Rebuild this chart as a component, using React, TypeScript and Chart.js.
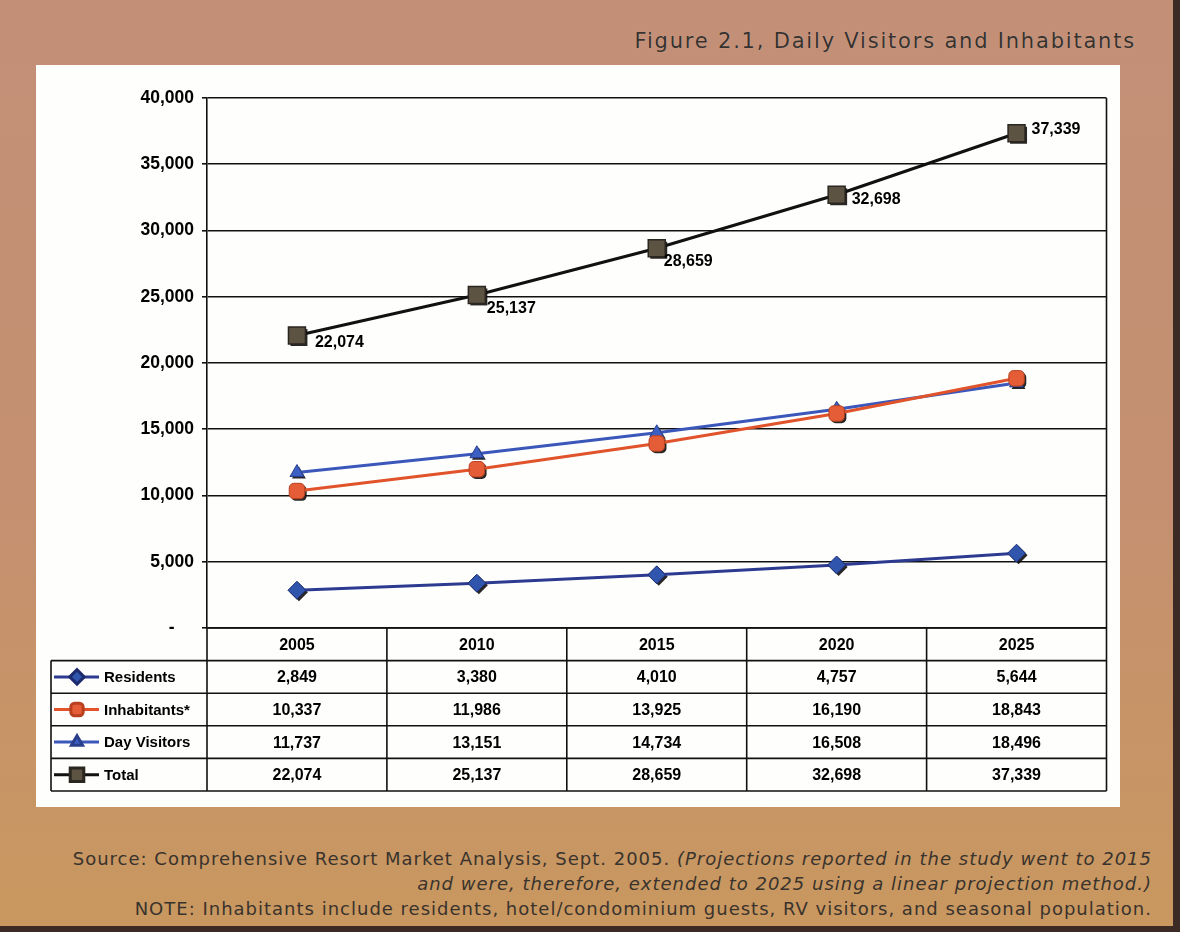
import React, { useEffect, useRef } from "react";
import { Chart, registerables } from "chart.js";
import { drawPoint } from "chart.js/helpers";

Chart.register(...registerables);

// ---- data ----
const years = ["2005", "2010", "2015", "2020", "2025"];
const residents = [2849, 3380, 4010, 4757, 5644];
const inhabitants = [10337, 11986, 13925, 16190, 18843];
const dayVisitors = [11737, 13151, 14734, 16508, 18496];
const total = [22074, 25137, 28659, 32698, 37339];
const seriesNames = ["Residents", "Inhabitants*", "Day Visitors", "Total"];
const yMin = 0;
const yMax = 40000;
const yStep = 5000;

const titleText = "Figure 2.1, Daily Visitors and Inhabitants";
const sourceText = "Source: Comprehensive Resort Market Analysis, Sept. 2005. ";
const sourceNoteA = "(Projections reported in the study went to 2015";
const sourceNoteB = "and were, therefore, extended to 2025 using a linear projection method.)";
const noteText =
  "NOTE: Inhabitants include residents, hotel/condominium guests, RV visitors, and seasonal population.";

const labelFont = (size: number) => `bold ${size}px "Liberation Sans", Arial, sans-serif`;
const fmt = (v: number) => v.toLocaleString("en-US");

// per-point nudges for the Total value labels (from the marker centre)
const totalLabelNudge = [
  [18, 7],
  [10, 14],
  [7, 13],
  [15, 5],
  [15, -4],
];

const markerShadowPlugin = {
  id: "markerShadow",
  beforeDatasetsDraw(chart: any) {
    const ctx = chart.ctx;
    ctx.save();
    ctx.fillStyle = "rgba(18,16,14,0.9)";
    chart.data.datasets.forEach((ds: any, i: number) => {
      const meta = chart.getDatasetMeta(i);
      meta.data.forEach((pt: any) => {
        drawPoint(
          ctx,
          { pointStyle: ds.pointStyle, radius: ds.pointRadius, rotation: 0, borderWidth: 0 },
          pt.x + 2,
          pt.y + 2
        );
      });
    });
    ctx.restore();
  },
};

const totalLabelsPlugin = {
  id: "totalLabels",
  afterDatasetsDraw(chart: any) {
    const ctx = chart.ctx;
    const idx = 3;
    const meta = chart.getDatasetMeta(idx);
    const values = chart.data.datasets[idx].data as number[];
    ctx.save();
    ctx.font = labelFont(16);
    ctx.fillStyle = "#000";
    ctx.textAlign = "left";
    ctx.textBaseline = "middle";
    meta.data.forEach((pt: any, i: number) => {
      const [dx, dy] = totalLabelNudge[i];
      ctx.fillText(fmt(values[i]), pt.x + dx, pt.y + dy);
    });
    ctx.restore();
  },
};

const dataTablePlugin = {
  id: "dataTable",
  afterDraw(chart: any) {
    const { ctx, chartArea, scales } = chart;
    const x = scales.x;
    const n = years.length;
    const datasets = chart.data.datasets;
    const rowH = 32.6;
    const top = chartArea.bottom;
    const bottom = top + rowH * (datasets.length + 1);
    const legendLeft = 15;

    const bounds: number[] = [chartArea.left];
    for (let i = 1; i < n; i++) bounds.push((x.getPixelForValue(i - 1) + x.getPixelForValue(i)) / 2);
    bounds.push(chartArea.right);

    ctx.save();
    ctx.strokeStyle = "#111";
    ctx.lineWidth = 1.6;
    ctx.beginPath();
    ctx.moveTo(chartArea.left, top);
    ctx.lineTo(chartArea.right, top);
    for (let r = 1; r <= datasets.length + 1; r++) {
      const y = top + r * rowH;
      ctx.moveTo(legendLeft, y);
      ctx.lineTo(chartArea.right, y);
    }
    ctx.moveTo(legendLeft, top + rowH);
    ctx.lineTo(legendLeft, bottom);
    bounds.forEach((b) => {
      ctx.moveTo(b, top);
      ctx.lineTo(b, bottom);
    });
    // right edge of the plot frame
    ctx.moveTo(chartArea.right, chartArea.top);
    ctx.lineTo(chartArea.right, top);
    ctx.stroke();

    ctx.font = labelFont(16);
    ctx.fillStyle = "#000";
    ctx.textAlign = "center";
    ctx.textBaseline = "middle";
    years.forEach((yr, i) => {
      ctx.fillText(yr, x.getPixelForValue(i), top + rowH / 2 + 1);
    });

    datasets.forEach((ds: any, r: number) => {
      const cy = top + rowH * (r + 1) + rowH / 2 + 1;
      ctx.font = labelFont(16);
      ctx.textAlign = "center";
      ctx.fillStyle = "#000";
      (ds.data as number[]).forEach((v, i) => {
        ctx.fillText(fmt(v), x.getPixelForValue(i), cy);
      });
      // legend key
      ctx.save();
      ctx.strokeStyle = ds.borderColor;
      ctx.lineWidth = 3;
      ctx.beginPath();
      ctx.moveTo(legendLeft + 3, cy - 1);
      ctx.lineTo(legendLeft + 48, cy - 1);
      ctx.stroke();
      ctx.fillStyle = ds.pointBackgroundColor;
      ctx.strokeStyle = ds.pointBorderColor;
      drawPoint(
        ctx,
        { pointStyle: ds.pointStyle, radius: ds.pointRadius * 0.8, rotation: 0, borderWidth: 1 },
        legendLeft + 26,
        cy - 1
      );
      ctx.restore();
      ctx.font = labelFont(15);
      ctx.textAlign = "left";
      ctx.fillStyle = "#000";
      ctx.fillText(ds.label, legendLeft + 53, cy);
    });
    ctx.restore();
  },
};

export default function App() {
  const canvasRef = useRef<HTMLCanvasElement>(null);

  useEffect(() => {
    const canvas = canvasRef.current;
    if (!canvas) return;
    const chart = new Chart(canvas, {
      type: "line",
      data: {
        labels: years,
        datasets: [
          {
            label: seriesNames[0],
            data: residents,
            borderColor: "#2c3b8f",
            backgroundColor: "#2f55ad",
            pointBackgroundColor: "#2f55ad",
            pointBorderColor: "#1d2b6e",
            pointStyle: "rectRot",
            pointRadius: 9,
            pointBorderWidth: 1,
            borderWidth: 3,
          },
          {
            label: seriesNames[1],
            data: inhabitants,
            borderColor: "#e0532b",
            backgroundColor: "#e55d36",
            pointBackgroundColor: "#e55d36",
            pointBorderColor: "#b8401f",
            pointStyle: "rectRounded",
            pointRadius: 9,
            pointBorderWidth: 1,
            borderWidth: 3,
          },
          {
            label: seriesNames[2],
            data: dayVisitors,
            borderColor: "#3b57ba",
            backgroundColor: "#3c5fc4",
            pointBackgroundColor: "#3c5fc4",
            pointBorderColor: "#2a3f8c",
            pointStyle: "triangle",
            pointRadius: 8,
            pointBorderWidth: 1,
            borderWidth: 3,
          },
          {
            label: seriesNames[3],
            data: total,
            borderColor: "#111111",
            backgroundColor: "#5d5343",
            pointBackgroundColor: "#5d5343",
            pointBorderColor: "#2a2620",
            pointStyle: "rect",
            pointRadius: 12,
            pointBorderWidth: 1.5,
            borderWidth: 3,
          },
        ],
      },
      options: {
        animation: false,
        responsive: false,
        maintainAspectRatio: false,
        devicePixelRatio: 1,
        layout: { padding: { top: 33, right: 12, bottom: 179, left: 0 } },
        plugins: {
          legend: { display: false },
          tooltip: { enabled: false },
          title: { display: false },
        },
        elements: { line: { tension: 0 } },
        scales: {
          x: {
            type: "category",
            offset: true,
            ticks: { display: false },
            grid: { display: false, drawTicks: false },
            border: { display: false },
          },
          y: {
            min: yMin,
            max: yMax,
            ticks: {
              stepSize: yStep,
              color: "#000",
              font: { family: '"Liberation Sans", Arial, sans-serif', size: 17.5, weight: "bold" },
              padding: 8,
              callback: (v: any) => (Number(v) === 0 ? "-    " : fmt(Number(v))),
            },
            grid: { color: "#111", lineWidth: 1.6, tickLength: 5 },
            border: { color: "#111", width: 1.6 },
            afterFit: (s: any) => {
              s.width = 171;
            },
          },
        },
      },
      plugins: [markerShadowPlugin, totalLabelsPlugin, dataTablePlugin],
    } as any);
    return () => chart.destroy();
  }, []);

  const textFont = '"DejaVu Sans", "Open Sans", sans-serif';
  const footColor = "#3a332d";

  return (
    <div
      style={{
        position: "absolute",
        left: 0,
        top: 0,
        width: 1180,
        height: 932,
        overflow: "hidden",
        background: "linear-gradient(to bottom, #c38f77 0%, #c49070 55%, #c9985f 100%)",
      }}
    >
      {/* dark outer edges */}
      <div style={{ position: "absolute", right: 0, top: 0, width: 7, height: 932, background: "#3b2b24" }} />
      <div style={{ position: "absolute", left: 0, bottom: 0, width: 1180, height: 6, background: "#3b2b24" }} />

      <div
        style={{
          position: "absolute",
          right: 44,
          top: 29,
          fontFamily: textFont,
          fontSize: 21,
          letterSpacing: 1.8,
          color: "#37322d",
          whiteSpace: "nowrap",
          textShadow: "0 0 1px rgba(255,255,255,0.35)",
        }}
      >
        {titleText}
      </div>

      <div
        style={{
          position: "absolute",
          left: 36,
          top: 65,
          width: 1084,
          height: 742,
          background: "#fefefc",
        }}
      >
        <canvas ref={canvasRef} width={1084} height={742} style={{ display: "block", width: 1084, height: 742 }} />
      </div>

      <div
        style={{
          position: "absolute",
          right: 28,
          top: 846,
          fontFamily: textFont,
          fontSize: 18,
          letterSpacing: 1,
          lineHeight: "25px",
          color: footColor,
          textAlign: "right",
          whiteSpace: "nowrap",
        }}
      >
        <div>
          {sourceText}
          <span style={{ fontStyle: "italic" }}>{sourceNoteA}</span>
        </div>
        <div style={{ fontStyle: "italic" }}>{sourceNoteB}</div>
        <div>{noteText}</div>
      </div>
    </div>
  );
}
